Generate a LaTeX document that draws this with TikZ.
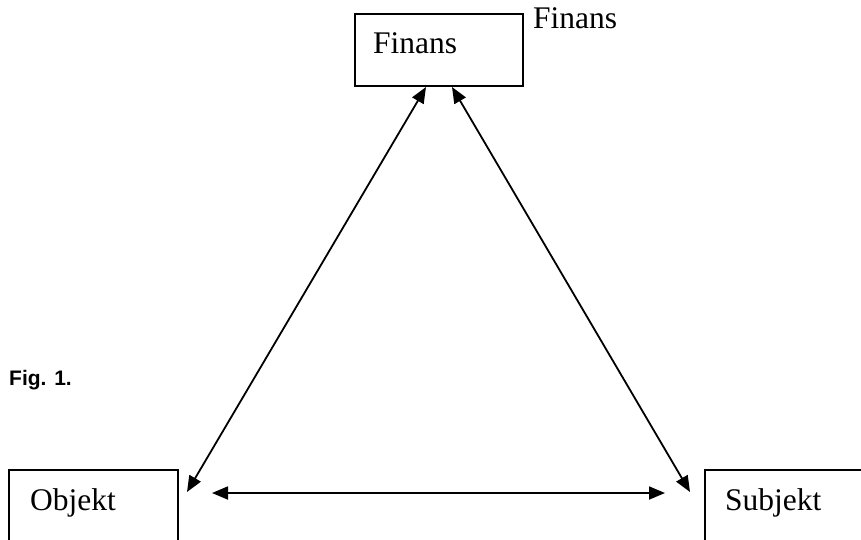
\documentclass[tikz,border=0pt]{standalone}
\usepackage{fontspec}
\setmainfont{Liberation Serif}
\newfontfamily\arialfont{Liberation Sans}
\usetikzlibrary{arrows.meta}
\tikzset{
  boxnode/.style={draw=black, line width=1.7pt, rectangle, inner sep=0pt, anchor=north west},
  lbl/.style={font=\fontsize{31.5}{36}\selectfont, inner sep=0pt, anchor=base west},
  link/.style={line width=1.8pt, {Triangle[length=16pt,width=13pt]}-{Triangle[length=16pt,width=13pt]}},
  figlbl/.style={font=\arialfont\bfseries\fontsize{21}{24}\selectfont, inner sep=0pt, anchor=base west}
}
\begin{document}
\begin{tikzpicture}[x=1pt,y=-1pt]
\clip (0,0) rectangle (861,539);
\useasboundingbox (0,0) rectangle (861,539);
\fill[white] (0,0) rectangle (861,539);
% boxes
\node[boxnode, minimum width=168pt, minimum height=72pt] (finbox) at (354,13) {};
\node[boxnode, minimum width=169pt, minimum height=120pt] (objbox) at (8,469) {};
\node[boxnode, minimum width=200pt, minimum height=120pt] (subbox) at (704,469) {};
% labels
\node[lbl] (finlbl) at (373,53) {Finans};
\node[lbl] (finout) at (533,28) {Finans};
\node[lbl] (objlbl) at (30,510) {Objekt};
\node[lbl] (sublbl) at (725,510) {Subjekt};
\node[figlbl] (fig) at (9,385) {Fig. 1.};
% arrow end points
\coordinate (ftl) at (426,87);
\coordinate (ftr) at (452,87);
\coordinate (oe) at (187,492);
\coordinate (se) at (690,492);
\coordinate (hl) at (212,493);
\coordinate (hr) at (665,493);
\draw[link] (ftl) -- (oe);
\draw[link] (ftr) -- (se);
\draw[link] (hl) -- (hr);
\end{tikzpicture}
\end{document}
